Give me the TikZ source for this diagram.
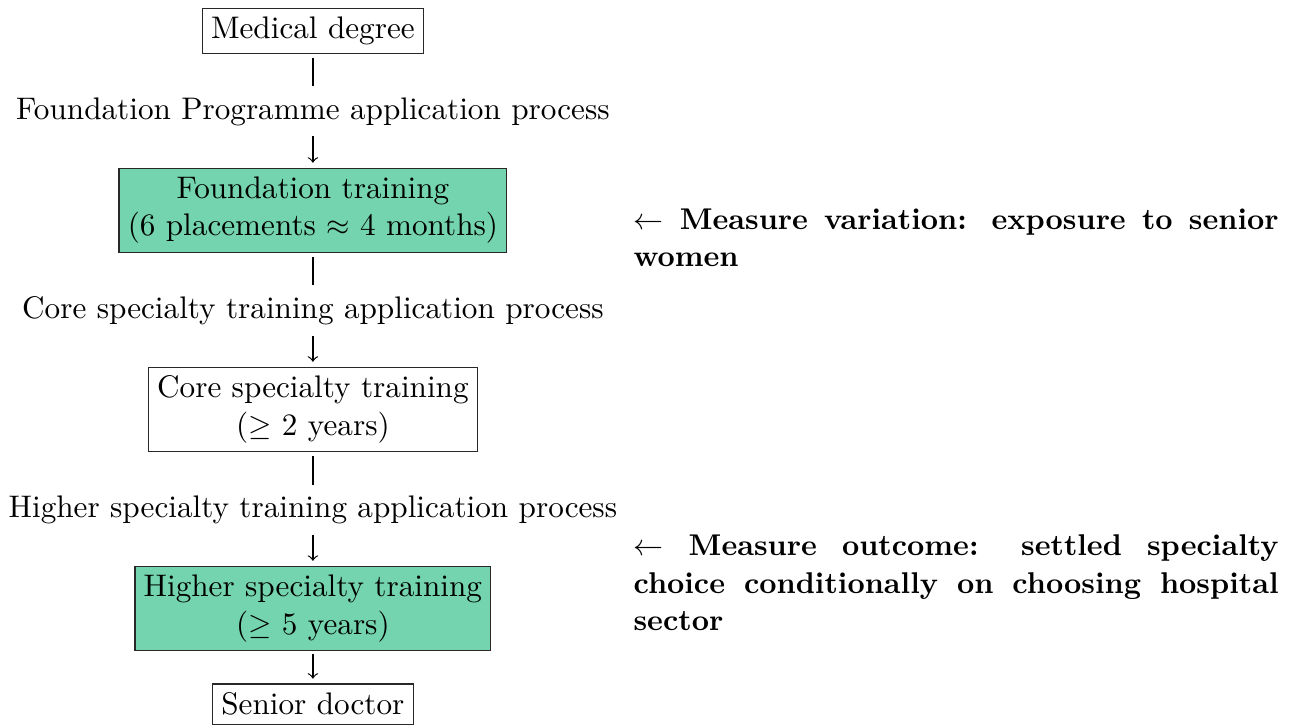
\documentclass[tikz,border=0pt]{standalone}
\usepackage{amssymb}
\definecolor{boxgreen}{RGB}{115,212,175}
\definecolor{boxline}{RGB}{40,40,40}
\begin{document}
\begin{tikzpicture}[x=1pt,y=1pt,
  every node/.style={font=\fontsize{10.4}{12.5}\selectfont},
  stage/.style={draw=boxline, line width=0.4pt, inner sep=2.9pt, align=center},
  hstage/.style={stage, fill=boxgreen},
  proc/.style={inner sep=0pt, anchor=base},
  note/.style={inner sep=0pt, anchor=north west, text width=215pt, align=justify, font=\fontsize{10}{12.5}\selectfont\bfseries},
  bar/.style={line width=0.4pt, shorten <=1.3pt, shorten >=3.5pt},
  arr/.style={line width=0.4pt, ->, shorten <=3.4pt, shorten >=1.6pt}]
\useasboundingbox (0,0) rectangle (432,-241.67);
\node[stage] (med) at (104.3,-10.3) {Medical degree};
\node[proc] (fp) at (104.3,-39.7) {Foundation Programme application process};
\node[hstage] (found) at (104.3,-70.1) {Foundation training\\(6 placements $\approx$ 4 months)};
\node[proc] (cp) at (104.3,-106.1) {Core specialty training application process};
\node[stage] (core) at (104.3,-136.5) {Core specialty training\\($\geq$ 2 years)};
\node[proc] (hp) at (104.3,-172.5) {Higher specialty training application process};
\node[hstage] (higher) at (104.3,-202.8) {Higher specialty training\\($\geq$ 5 years)};
\node[stage] (senior) at (104.3,-234.7) {Senior doctor};
\node[note] (n1) at (211,-69.4) {$\leftarrow$ Measure variation: exposure to senior women};
\node[note] (n2) at (211,-178.1) {$\leftarrow$ Measure outcome: settled specialty choice conditionally on choosing hospital sector};
\draw[bar] (med) -- (fp);
\draw[arr] (fp) -- (found);
\draw[bar] (found) -- (cp);
\draw[arr] (cp) -- (core);
\draw[bar] (core) -- (hp);
\draw[arr] (hp) -- (higher);
\draw[arr, shorten <=1pt] (higher) -- (senior);
\end{tikzpicture}
\end{document}
